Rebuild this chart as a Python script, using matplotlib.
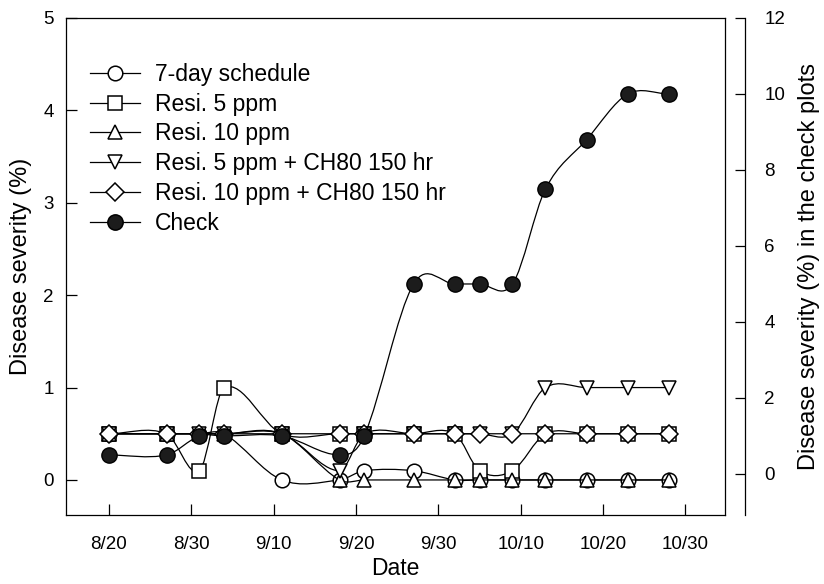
import matplotlib
matplotlib.use('Agg')
import matplotlib.pyplot as plt
from matplotlib.lines import Line2D
from matplotlib.path import Path
from matplotlib.patches import PathPatch
import numpy as np

plt.rcParams['font.family'] = ['Liberation Sans', 'DejaVu Sans']

# days counted from 8/20 (axis ticks are 10 days apart)
days = [0, 7, 11, 14, 21, 28, 31, 37, 42, 45, 49, 53, 58, 63, 68]
tick_days = [0, 10, 20, 30, 40, 50, 60, 70]
tick_labels = ['8/20', '8/30', '9/10', '9/20', '9/30', '10/10', '10/20', '10/30']

seven_day = [0.5, 0.5, 0.5, 0.5, 0.0, 0.0, 0.1, 0.1, 0.0, 0.0, 0.0, 0.0, 0.0, 0.0, 0.0]
resi5 = [0.5, 0.5, 0.1, 1.0, 0.5, 0.5, 0.5, 0.5, 0.5, 0.1, 0.1, 0.5, 0.5, 0.5, 0.5]
resi10 = [0.5, 0.5, 0.5, 0.5, 0.5, 0.0, 0.0, 0.0, 0.0, 0.0, 0.0, 0.0, 0.0, 0.0, 0.0]
resi5_ch80 = [0.5, 0.5, 0.5, 0.5, 0.5, 0.1, 0.5, 0.5, 0.5, 0.5, 0.5, 1.0, 1.0, 1.0, 1.0]
resi10_ch80 = [0.5, 0.5, 0.5, 0.5, 0.5, 0.5, 0.5, 0.5, 0.5, 0.5, 0.5, 0.5, 0.5, 0.5, 0.5]
check = [0.5, 0.5, 1.0, 1.0, 1.0, 0.5, 1.0, 5.0, 5.0, 5.0, 5.0, 7.5, 8.8, 10.0, 10.0]

labels = ['7-day schedule', 'Resi. 5 ppm', 'Resi. 10 ppm',
          'Resi. 5 ppm + CH80 150 hr', 'Resi. 10 ppm + CH80 150 hr', 'Check']


def smooth_line(ax, x, y, z):
    # smooth curve through the points (cubic Bezier segments), like the original plot
    x = np.asarray(x, float)
    y = np.asarray(y, float)
    m = np.zeros(len(x))
    m[1:-1] = (y[2:] - y[:-2]) / (x[2:] - x[:-2])
    m[0] = (y[1] - y[0]) / (x[1] - x[0])
    m[-1] = (y[-1] - y[-2]) / (x[-1] - x[-2])
    verts = [(x[0], y[0])]
    codes = [Path.MOVETO]
    for i in range(len(x) - 1):
        h = x[i + 1] - x[i]
        verts += [(x[i] + h / 3, y[i] + m[i] * h / 3),
                  (x[i + 1] - h / 3, y[i + 1] - m[i + 1] * h / 3),
                  (x[i + 1], y[i + 1])]
        codes += [Path.CURVE4] * 3
    ax.add_patch(PathPatch(Path(verts, codes), fill=False, edgecolor='black',
                           lw=0.9, zorder=z))


fig = plt.figure(figsize=(8.24, 5.84), dpi=100)
ax = fig.add_axes([0.0801, 0.1182, 0.7998, 0.851])
ax2 = ax.twinx()

styles = [('o', 10.5, 'white'), ('s', 9.5, 'white'), ('^', 10.5, 'white'),
          ('v', 10.5, 'white'), ('D', 9.0, 'white'), ('o', 11, '#1c1c1c')]
series = [seven_day, resi5, resi10, resi5_ch80, resi10_ch80]

handles = []
for i, vals in enumerate(series):
    mk, ms, fc = styles[i]
    smooth_line(ax, days, vals, 2 + 2 * i)
    ax.plot(days, vals, ls='none', marker=mk, ms=ms, mfc=fc, mec='black',
            mew=1.1, zorder=3 + 2 * i)

mk, ms, fc = styles[5]
smooth_line(ax2, days, check, 2)
ax2.plot(days, check, ls='none', marker=mk, ms=ms, mfc=fc, mec='black',
         mew=1.0, zorder=3)

for (mk, ms, fc), lab in zip(styles, labels):
    handles.append(Line2D([], [], color='black', lw=0.9, marker=mk, ms=ms,
                          mfc=fc, mec='black', mew=1.1, label=lab))

ax.set_xlim(-5.2, 74.8)
ax.set_ylim(-0.379, 5)
ax2.set_ylim(-1.079, 12)

ax.set_xticks(tick_days)
ax.set_xticklabels(tick_labels)
ax.set_yticks([0, 1, 2, 3, 4, 5])
ax2.set_yticks([0, 2, 4, 6, 8, 10, 12])

ax.tick_params(axis='both', direction='in', length=8, width=0.9,
               labelsize=13.5, pad=9)
ax.tick_params(axis='x', pad=15)
ax2.tick_params(axis='y', direction='in', length=7, width=0.9,
                labelsize=13.5, pad=14)

for s in ax.spines.values():
    s.set_linewidth(0.9)
for s in ['top', 'left', 'bottom']:
    ax2.spines[s].set_visible(False)
ax2.spines['right'].set_position(('outward', 14.4))
ax2.spines['right'].set_linewidth(0.9)

ax.set_xlabel('Date', fontsize=16.5, labelpad=3)
ax.set_ylabel('Disease severity (%)', fontsize=17, labelpad=8)
ax2.set_ylabel('Disease severity (%) in the check plots', fontsize=17, labelpad=9)

ax2.legend(handles=handles, loc='upper left', bbox_to_anchor=(0.036, 0.91),
           frameon=False, fontsize=16.5, handlelength=2.2, handletextpad=0.65,
           labelspacing=0.3, borderpad=0, borderaxespad=0)

fig.savefig('out.png', dpi=100)
